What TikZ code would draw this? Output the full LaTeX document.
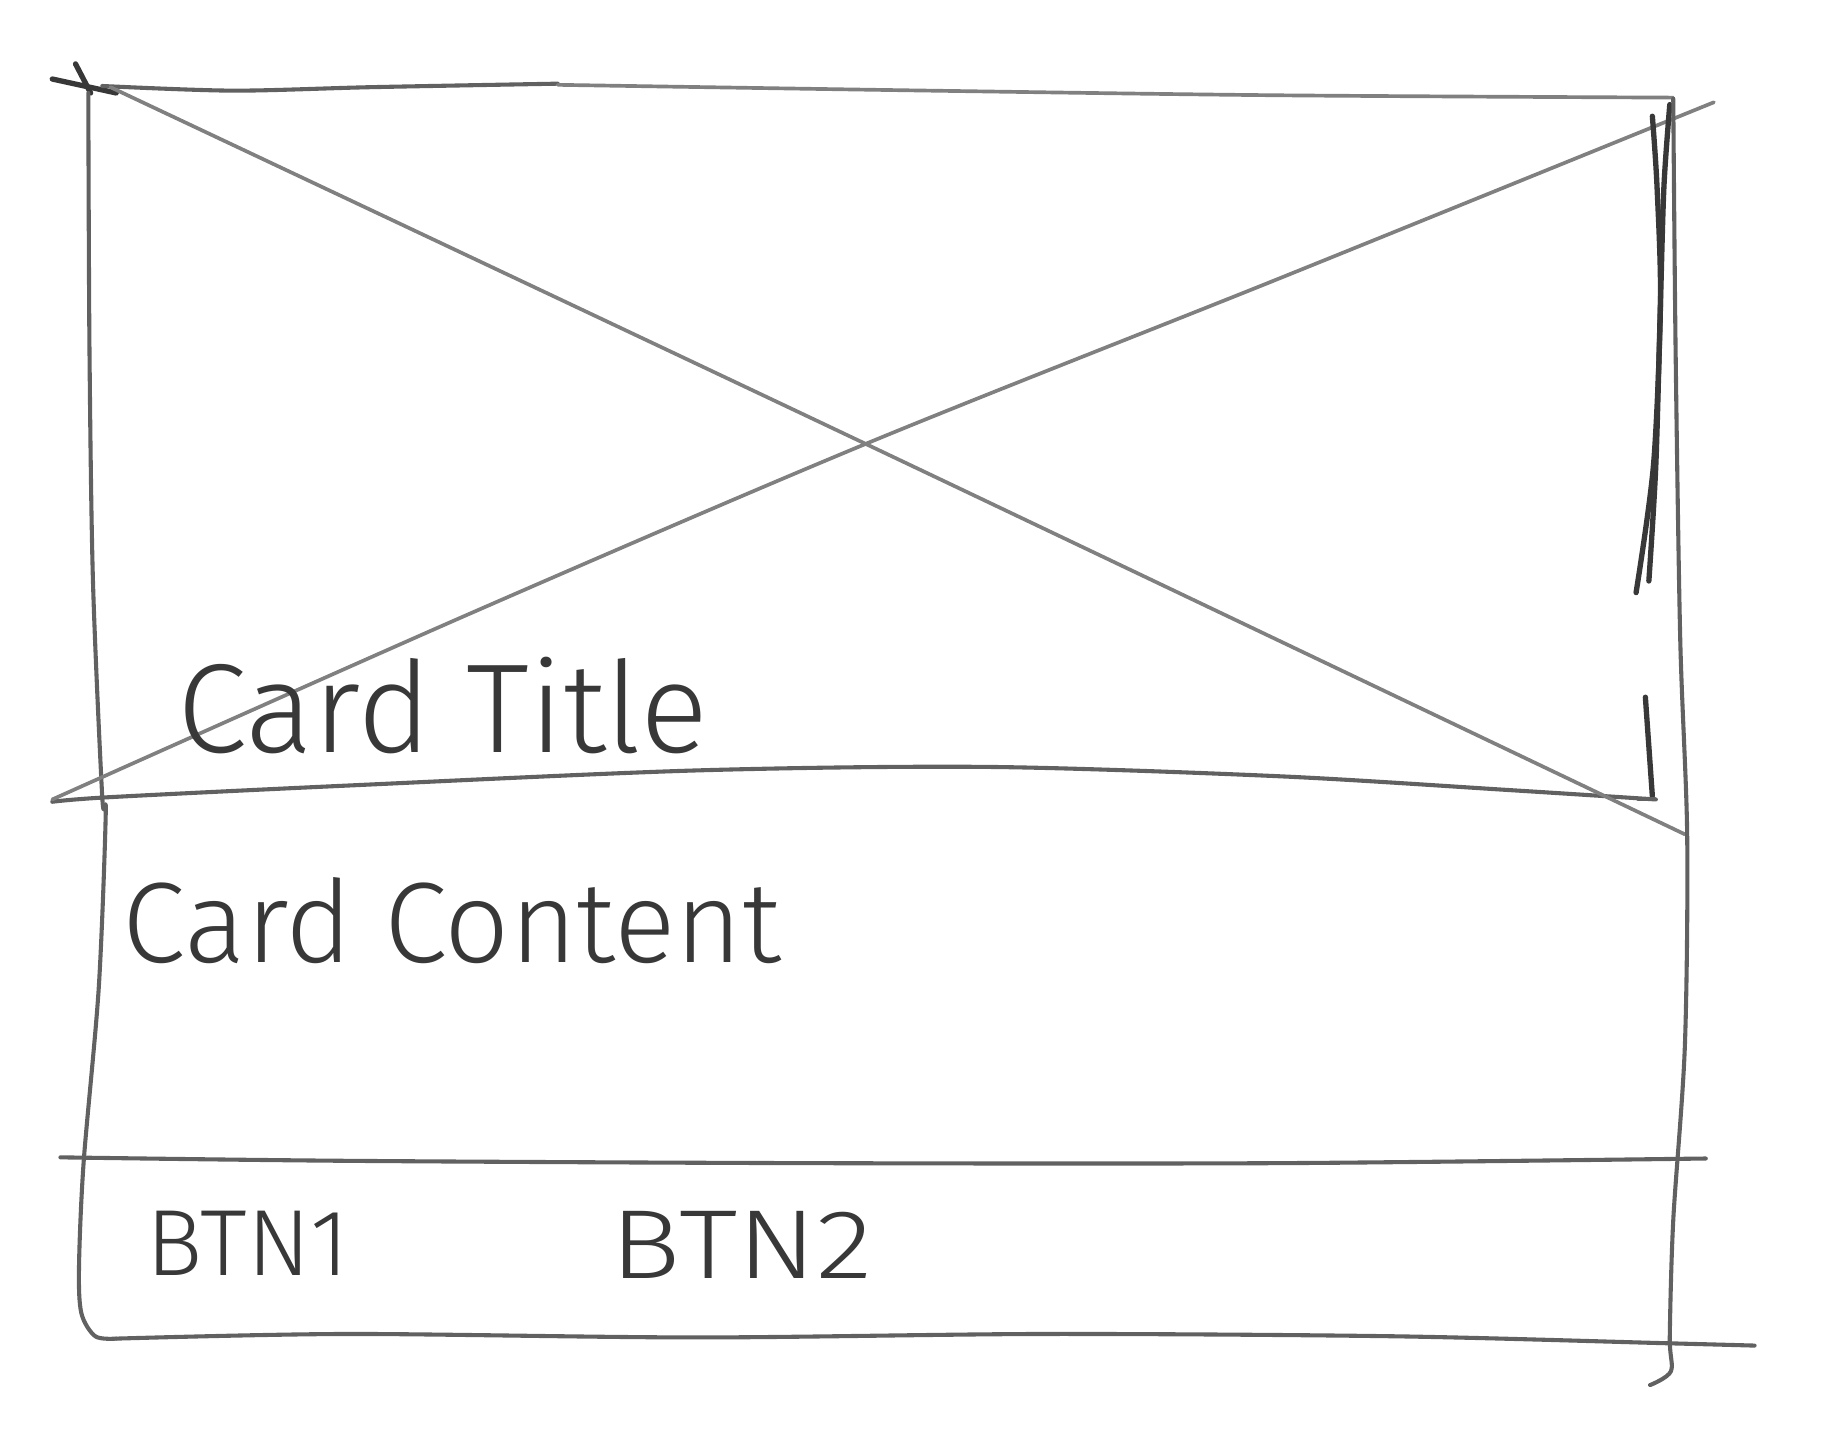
\documentclass[tikz,border=0pt]{standalone}
\usepackage{fontspec}
\setmainfont{Fira Sans Light}
\begin{document}
\begin{tikzpicture}[x=0.01cm,y=-0.01cm,
  pencil/.style={draw=black!62, line width=1pt, line cap=round, line join=round},
  light/.style={draw=black!50, line width=0.9pt, line cap=round, line join=round},
  dark/.style={draw=black!78, line width=1.3pt, line cap=round, line join=round},
  hand/.style={text=black!78, inner sep=0pt, anchor=base west}]
\useasboundingbox (0,0) rectangle (1568,1239);
\fill[white] (0,0) rectangle (1568,1239);

% top-left tick marks
\draw[dark] (45,68) -- (100,80);
\draw[dark] (65,55) -- (78,80);
% top line
\draw[pencil] plot[smooth] coordinates {(88,74) (200,78) (320,75) (480,72)};
\draw[light] plot[smooth] coordinates {(480,73) (800,78) (1100,82) (1440,84)};
% left vertical
\draw[pencil] plot[smooth] coordinates {(76,80) (77,300) (80,500) (88,686) (91,700) (85,850) (72,1000) (68,1090) (70,1130) (82,1150) (100,1152)};
% bottom line
\draw[pencil] plot[smooth] coordinates {(100,1152) (300,1148) (600,1151) (900,1148) (1200,1150) (1435,1156) (1510,1158)};
% middle line
\draw[pencil] plot[smooth] coordinates {(52,996) (300,999) (700,1001) (1100,1001) (1468,997)};
% image bottom line
\draw[pencil] plot[smooth] coordinates {(45,690) (95,686) (300,676) (600,663) (850,660) (1100,668) (1300,680) (1425,688)};
% diagonal 1
\draw[light] plot[smooth] coordinates {(95,75) (745,382) (1450,718)};
% diagonal 2
\draw[light] plot[smooth] coordinates {(45,688) (400,530) (745,382) (1100,240) (1475,88)};
% inner right vertical (double stroke)
\draw[dark] plot[smooth] coordinates {(1422,100) (1426,160) (1429,260) (1423,400) (1408,510)};
\draw[dark] plot[smooth] coordinates {(1437,90) (1432,160) (1429,260) (1425,400) (1419,500)};
\draw[dark] (1416,600) -- (1422,685);
\draw[pencil] (1410,688) -- (1424,688);
% outer right vertical
\draw[pencil] plot[smooth] coordinates {(1440,85) (1442,300) (1446,550) (1452,720) (1450,900) (1440,1050) (1437,1150) (1438,1180) (1420,1192)};

% texts
\node[hand] (title) at (152,648) {\fontsize{31}{36}\selectfont Card Title};
\node[hand] (content) at (105,828) {\fontsize{28}{32}\selectfont Card Content};
\node[hand] (btn1) at (125,1098) {\fontsize{23}{26}\selectfont BTN1};
\node[hand] (btn2) at (525,1100) {\scalebox{1.2}[1]{\fontsize{24}{28}\selectfont BTN2}};
\end{tikzpicture}
\end{document}
